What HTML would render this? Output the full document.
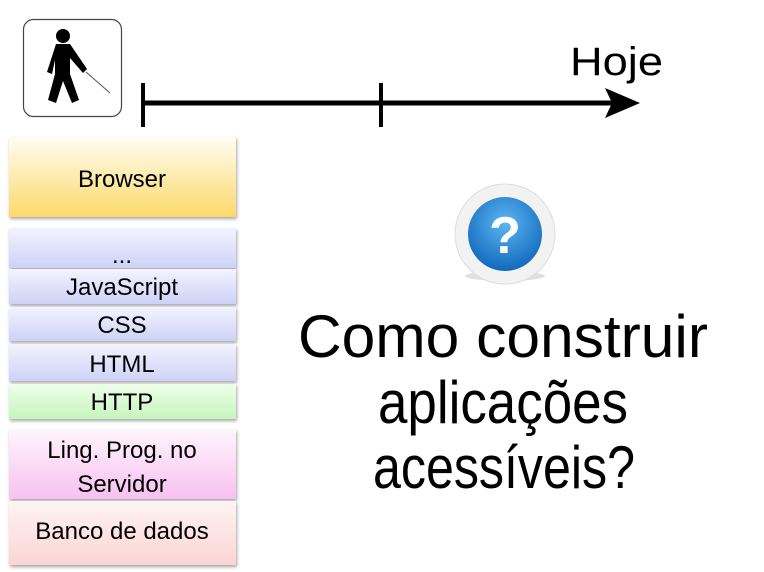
<!DOCTYPE html>
<html><head><meta charset="utf-8"><style>
html,body{margin:0;padding:0;background:#fff;}
svg{display:block;font-family:"Liberation Sans",sans-serif;}
</style></head><body>
<svg width="764" height="572" viewBox="0 0 764 572" xmlns="http://www.w3.org/2000/svg">
<defs>
<linearGradient id="gy" x1="0" y1="0" x2="0" y2="1"><stop offset="0" stop-color="#fffdf2"/><stop offset="1" stop-color="#fbd96a"/></linearGradient>
<linearGradient id="gb" x1="0" y1="0" x2="0" y2="1"><stop offset="0" stop-color="#f3f3ff"/><stop offset="1" stop-color="#cfd1f6"/></linearGradient>
<linearGradient id="gg" x1="0" y1="0" x2="0" y2="1"><stop offset="0" stop-color="#eefeea"/><stop offset="1" stop-color="#c6f5bd"/></linearGradient>
<linearGradient id="gp" x1="0" y1="0" x2="0" y2="1"><stop offset="0" stop-color="#fff5fd"/><stop offset="1" stop-color="#f7c0f0"/></linearGradient>
<linearGradient id="gr" x1="0" y1="0" x2="0" y2="1"><stop offset="0" stop-color="#fff3f3"/><stop offset="1" stop-color="#fcd4d4"/></linearGradient>
<radialGradient id="qb" cx="0.5" cy="0.35" r="0.7"><stop offset="0" stop-color="#5cb6f2"/><stop offset="1" stop-color="#0d63b8"/></radialGradient>
<filter id="sh" x="-10%" y="-10%" width="120%" height="130%"><feDropShadow dx="1" dy="2" stdDeviation="1.5" flood-color="#000" flood-opacity="0.35"/></filter>
</defs>

<!-- icon -->
<rect x="23.5" y="19.5" width="98" height="97" rx="10" fill="#fff" stroke="#444" stroke-width="1.2"/>
<circle cx="63" cy="36" r="7" fill="#000"/>
<path d="M56 44 L70 44 L87 69 L83 73 L70 58 L70 74 L79 100 L72 103 L63 81 L56 103 L48 100 L55 74 L55 60 L52 74 L47 72 Z" fill="#000"/>
<line x1="86" y1="72" x2="110" y2="93" stroke="#555" stroke-width="1"/>

<!-- timeline -->
<line x1="143" y1="103" x2="622" y2="103" stroke="#000" stroke-width="5"/>
<line x1="143" y1="83" x2="143" y2="127" stroke="#000" stroke-width="4"/>
<line x1="381" y1="83" x2="381" y2="127" stroke="#000" stroke-width="4"/>
<polygon points="605,88 640,103 605,118 612,103" fill="#000"/>
<text x="570" y="75" font-size="40" textLength="93" lengthAdjust="spacingAndGlyphs">Hoje</text>

<!-- stack -->
<g filter="url(#sh)">
<rect x="9" y="137" width="227" height="80" fill="url(#gy)"/>
<rect x="9" y="228" width="227" height="40" fill="url(#gb)"/>
<rect x="9" y="269" width="227" height="35" fill="url(#gb)"/>
<rect x="9" y="307" width="227" height="34" fill="url(#gb)"/>
<rect x="9" y="344" width="227" height="37" fill="url(#gb)"/>
<rect x="9" y="384" width="227" height="35" fill="url(#gg)"/>
<rect x="9" y="429" width="227" height="70" fill="url(#gp)"/>
<rect x="9" y="501" width="227" height="64" fill="url(#gr)"/>
</g>
<g font-size="24" text-anchor="middle" fill="#000">
<text x="122" y="187">Browser</text>
<text x="122" y="263">...</text>
<text x="122" y="295">JavaScript</text>
<text x="122" y="333">CSS</text>
<text x="122" y="372">HTML</text>
<text x="122" y="410">HTTP</text>
<text x="122" y="458">Ling. Prog. no</text>
<text x="122" y="492">Servidor</text>
<text x="122" y="539">Banco de dados</text>
</g>

<!-- question icon -->
<ellipse cx="505" cy="276" rx="40" ry="5" fill="#000" opacity="0.12"/>
<circle cx="505" cy="234" r="50" fill="#f2f2f2" stroke="#ddd" stroke-width="1"/>
<circle cx="505" cy="234" r="37" fill="url(#qb)"/>
<text x="505" y="253" font-size="52" font-weight="bold" fill="#fff" text-anchor="middle">?</text>

<!-- main text -->
<g font-size="60" fill="#000">
<text x="298" y="357" textLength="410" lengthAdjust="spacingAndGlyphs">Como construir</text>
<text x="378" y="423" textLength="250" lengthAdjust="spacingAndGlyphs">aplicações</text>
<text x="373" y="488" textLength="262" lengthAdjust="spacingAndGlyphs">acessíveis?</text>
</g>
</svg>
</body></html>
